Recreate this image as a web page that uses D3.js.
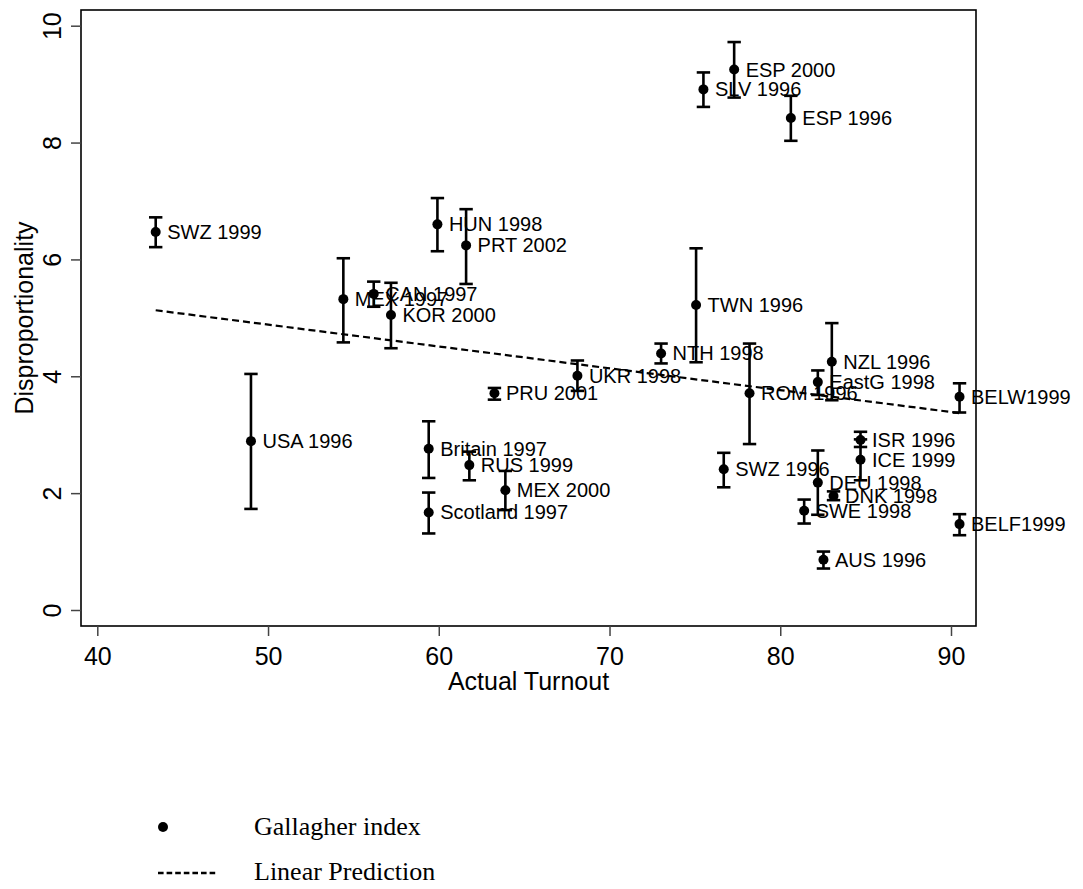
<!DOCTYPE html>
<html>
<head>
<meta charset="utf-8">
<script src="https://cdn.jsdelivr.net/npm/d3@7/dist/d3.min.js"></script>
<style>
  html, body { margin: 0; padding: 0; background: #fff; }
  svg { display: block; }
</style>
</head>
<body>
<svg id="chart" width="1083" height="889"></svg>
<script>
// ---- data ----
const labels = ["SWZ 1999","USA 1996","MEX 1997","CAN 1997","KOR 2000","Britain 1997","Scotland 1997",
  "HUN 1998","PRT 2002","RUS 1999","PRU 2001","MEX 2000","UKR 1998","NTH 1998","TWN 1996","SLV 1996",
  "SWZ 1996","ESP 2000","ROM 1996","ESP 1996","SWE 1998","DEU 1998","EastG 1998","AUS 1996","NZL 1996",
  "DNK 1998","ISR 1996","ICE 1999","BELW1999","BELF1999"];
const turnout = [43.42,49.0,54.41,56.19,57.2,59.41,59.41,59.92,61.6,61.79,63.26,63.9,68.12,73.02,75.07,75.5,
  76.69,77.3,78.2,80.62,81.4,82.2,82.2,82.53,83.02,83.12,84.7,84.7,90.5,90.5];
const gallagher = [6.47,2.89,5.32,5.41,5.05,2.76,1.67,6.60,6.24,2.48,3.71,2.05,4.01,4.39,5.22,8.91,
  2.41,9.25,3.71,8.42,1.70,2.18,3.90,0.86,4.25,1.95,2.91,2.57,3.65,1.47];
const ciLow = [6.21,1.73,4.58,5.19,4.48,2.26,1.31,6.14,5.58,2.22,3.60,1.71,3.75,4.22,4.24,8.61,
  2.10,8.77,2.84,8.03,1.48,1.63,3.68,0.71,3.59,1.88,2.79,2.22,3.38,1.28];
const ciHigh = [6.72,4.04,6.02,5.62,5.60,3.23,2.01,7.05,6.86,2.71,3.80,2.38,4.27,4.56,6.19,9.20,
  2.69,9.72,4.56,8.80,1.89,2.73,4.10,1.00,4.91,2.03,3.05,2.92,3.88,1.64];
const lfitX = [43.42, 90.5];
const lfitY = [5.13, 3.37];
const xTicks = [40,50,60,70,80,90];
const yTicks = [0,2,4,6,8,10];
const legendLabels = ["Gallagher index","Linear Prediction"];

// ---- layout ----
const svg = d3.select("#chart");
const frame = {left: 81, right: 976, top: 10, bottom: 626};
const x = d3.scaleLinear().domain([40, 90]).range([97.3, 951]);
const y = d3.scaleLinear().domain([0, 10]).range([610, 25.7]);
const sans = "'Liberation Sans', Arial, Helvetica, sans-serif";
const serif = "'Liberation Serif', 'Times New Roman', Times, serif";

// frame
svg.append("rect")
  .attr("x", frame.left).attr("y", frame.top)
  .attr("width", frame.right - frame.left).attr("height", frame.bottom - frame.top)
  .attr("fill", "none").attr("stroke", "#000").attr("stroke-width", 1.6);

// x axis
const xAxis = d3.axisBottom(x).tickValues(xTicks).tickSize(10).tickPadding(0).tickFormat(d3.format("d"));
const gx = svg.append("g").attr("transform", `translate(0,${frame.bottom})`).call(xAxis);
gx.select(".domain").remove();
gx.selectAll(".tick line").attr("stroke", "#444").attr("stroke-width", 1.5);
gx.selectAll(".tick text").attr("font-family", sans).attr("font-size", 25).attr("fill", "#000")
  .attr("y", 39).attr("dy", null);

// y axis
const yAxis = d3.axisLeft(y).tickValues(yTicks).tickSize(10).tickFormat(d3.format("d"));
const gy = svg.append("g").attr("transform", `translate(${frame.left},0)`).call(yAxis);
gy.select(".domain").remove();
gy.selectAll(".tick line").attr("stroke", "#444").attr("stroke-width", 1.5);
gy.selectAll(".tick text")
  .attr("font-family", sans).attr("font-size", 25).attr("fill", "#000")
  .attr("x", null).attr("dy", null)
  .attr("text-anchor", "middle")
  .attr("transform", "translate(-20,0) rotate(-90)");

// axis titles
svg.append("text").attr("x", (frame.left + frame.right) / 2).attr("y", 690)
  .attr("text-anchor", "middle").attr("font-family", sans).attr("font-size", 25)
  .text("Actual Turnout");
svg.append("text").attr("transform", `translate(33,${(frame.top + frame.bottom) / 2}) rotate(-90)`)
  .attr("text-anchor", "middle").attr("font-family", sans).attr("font-size", 25)
  .text("Disproportionality");

// linear prediction
const lineData = lfitX.map((v, i) => [v, lfitY[i]]);
svg.append("path").datum(lineData)
  .attr("d", d3.line().x(d => x(d[0])).y(d => y(d[1])))
  .attr("fill", "none").attr("stroke", "#000").attr("stroke-width", 2.2)
  .attr("stroke-dasharray", "7,4");

// error bars
const pts = labels.map((l, i) => ({l, tx: turnout[i], g: gallagher[i], lo: ciLow[i], hi: ciHigh[i]}));
const eb = svg.append("g").attr("stroke", "#000").attr("stroke-width", 2.6);
pts.forEach(p => {
  eb.append("line").attr("x1", x(p.tx)).attr("x2", x(p.tx)).attr("y1", y(p.lo)).attr("y2", y(p.hi));
  eb.append("line").attr("x1", x(p.tx) - 6.7).attr("x2", x(p.tx) + 6.7).attr("y1", y(p.lo)).attr("y2", y(p.lo));
  eb.append("line").attr("x1", x(p.tx) - 6.7).attr("x2", x(p.tx) + 6.7).attr("y1", y(p.hi)).attr("y2", y(p.hi));
});

// points
svg.append("g").selectAll("circle").data(pts).join("circle")
  .attr("cx", d => x(d.tx)).attr("cy", d => y(d.g)).attr("r", 5).attr("fill", "#000");

// labels
svg.append("g").selectAll("text").data(pts).join("text")
  .attr("x", d => x(d.tx) + 11.5).attr("y", d => y(d.g))
  .attr("dy", "0.35em")
  .attr("font-family", sans).attr("font-size", 20).attr("fill", "#000")
  .text(d => d.l);

// legend
svg.append("circle").attr("cx", 163).attr("cy", 827).attr("r", 5).attr("fill", "#000");
svg.append("line").attr("x1", 158).attr("x2", 218).attr("y1", 873).attr("y2", 873)
  .attr("stroke", "#000").attr("stroke-width", 2.6).attr("stroke-dasharray", "5.6,3");
svg.append("text").attr("x", 254).attr("y", 835).attr("font-family", serif).attr("font-size", 26)
  .text(legendLabels[0]);
svg.append("text").attr("x", 254).attr("y", 880).attr("font-family", serif).attr("font-size", 26)
  .text(legendLabels[1]);
</script>
</body>
</html>
